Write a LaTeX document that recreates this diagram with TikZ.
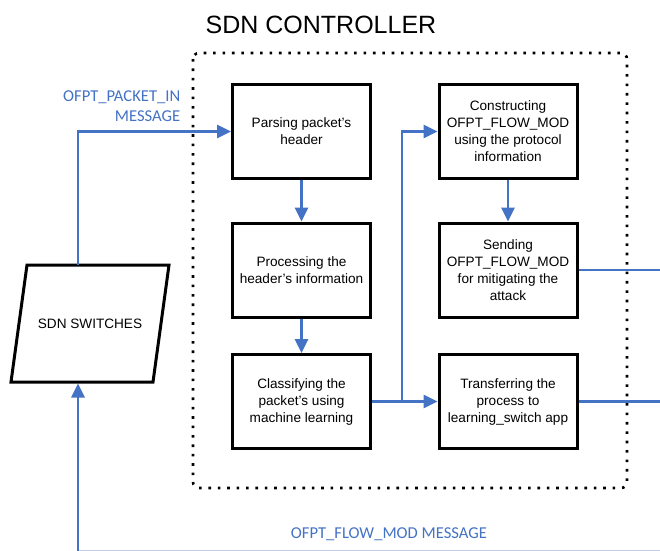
\documentclass[tikz,border=0pt]{standalone}
\usepackage{fontspec}
\setmainfont{Liberation Sans}
\newfontfamily\labelfont{Carlito}
\usetikzlibrary{arrows.meta}
\definecolor{flowblue}{RGB}{68,114,196}
\begin{document}
\begin{tikzpicture}[x=1pt,y=-1pt,
  stepbox/.style={draw, line width=3pt, minimum width=138pt, minimum height=94pt,
    align=center, font=\fontsize{13.6}{17}\selectfont, inner sep=2pt},
  flow/.style={draw=flowblue, line width=2.6pt},
  arr/.style={flow, -{Triangle[length=14pt,width=13pt]}},
  msg/.style={text=flowblue, inner sep=0pt, font=\labelfont\fontsize{16.6}{20}\selectfont}]
\useasboundingbox (0,0) rectangle (660,550);

% controller frame
\draw[line width=2.6pt, dash pattern=on 2.6pt off 6.8pt, rounded corners=6pt]
  (193,53) rectangle (627,488);
\node (title) at (321,25) [font=\fontsize{25}{30}\selectfont] {SDN CONTROLLER};

% steps inside the controller
\node (parse) at (301.5,131.5) [stepbox] {Parsing packet's\\header};
\node (proc) at (301.5,270) [stepbox] {Processing the\\header's information};
\node (class) at (301.5,401.5) [stepbox] {Classifying the\\packet's using\\machine learning};
\node (build) at (508,131.5) [stepbox] {Constructing\\OFPT\_FLOW\_MOD\\using the protocol\\information};
\node (send) at (508,270) [stepbox] {Sending\\OFPT\_FLOW\_MOD\\for mitigating the\\attack};
\node (pass) at (508,401.5) [stepbox] {Transferring the\\process to\\learning\_switch app};

% switches
\draw[line width=3pt, line join=miter] (27,265) -- (169,265) -- (153,382) -- (11,382) -- cycle;
\node (sw) at (90,323.5) [font=\fontsize{13.6}{17}\selectfont] {SDN SWITCHES};

\coordinate (swtop) at (78,265);
\coordinate (swbot) at (78,383.5);
\coordinate (up) at (78,131.5);
\coordinate (fork) at (402,401.5);
\coordinate (forkup) at (402,131.5);
\coordinate (outA) at (662,270);
\coordinate (outB) at (662,401.5);
\coordinate (back) at (78,551);
\coordinate (backend) at (662,551);

\node (inmsg) at (180.5,106) [msg, anchor=east, align=right] {OFPT\_PACKET\_IN\\MESSAGE};
\node (outmsg) at (389,534) [msg] {OFPT\_FLOW\_MOD MESSAGE};

% flows
\draw[arr] (swtop) -- (up) -- (parse.west);
\draw[arr] (parse) -- (proc);
\draw[arr] (proc) -- (class);
\draw[arr] (class.east) -- (pass.west);
\draw[arr] (fork) -- (forkup) -- (build.west);
\draw[arr] (build) -- (send);
\draw[flow] (send.east) -- (outA);
\draw[flow] (pass.east) -- (outB);
\draw[flow, draw=flowblue!35] (back) -- (backend);
\draw[arr] (back) -- (swbot);
\end{tikzpicture}
\end{document}
